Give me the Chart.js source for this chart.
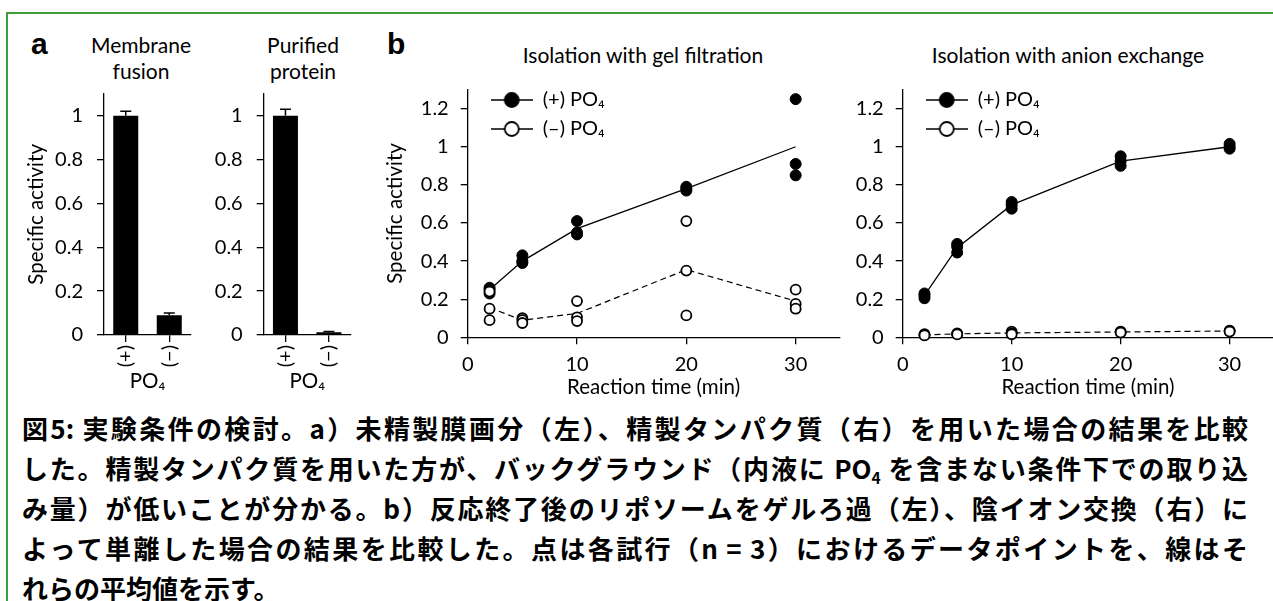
<!DOCTYPE html>
<html lang="ja">
<head>
<meta charset="utf-8">
<title>図5 実験条件の検討</title>
<script src="https://cdn.jsdelivr.net/npm/chart.js@4.4.1/dist/chart.umd.min.js"></script>
<style>
  html, body { margin: 0; padding: 0; background: #fff; overflow: hidden; }
  body { width: 1273px; height: 601px; position: relative; }
  .frame-top { position: absolute; left: 6px; top: 12px; width: 1267px; height: 2px; background: #3c9f3c; }
  .frame-left { position: absolute; left: 6px; top: 12px; width: 2px; height: 589px; background: #3c9f3c; }
  canvas { position: absolute; }
  .panel { position: absolute; font: bold 30px "Liberation Sans", Arial, sans-serif; line-height: 30px; color: #000; }
  .ttl { position: absolute; font: 21px Lato, sans-serif; line-height: 26px; text-align: center; color: #000; }
  #caption { position: absolute; left: 22px; top: 408px; width: 1226px; font: bold 26px "Noto Sans CJK JP", sans-serif; line-height: 40px; color: #000; }
  #caption div { text-align: justify; text-align-last: justify; }
  #caption div.last { text-align-last: left; }
  #caption sub { font-size: 60%; vertical-align: -0.3em; line-height: 0; }
</style>
</head>
<body>
<div class="frame-top"></div>
<div class="frame-left"></div>

<div class="panel" style="left:31px; top:29px;">a</div>
<div class="panel" style="left:387px; top:29px;">b</div>
<div class="ttl" style="left:61px; top:32px; width:160px;">Membrane<br>fusion</div>
<div class="ttl" style="left:223px; top:32px; width:160px;">Purified<br>protein</div>
<div class="ttl" style="left:493px; top:42px; width:300px;">Isolation with gel filtration</div>
<div class="ttl" style="left:918px; top:42px; width:300px;">Isolation with anion exchange</div>

<canvas id="membrane" width="190" height="380" style="left:10px; top:20px;"></canvas>
<canvas id="purified" width="160" height="380" style="left:200px; top:20px;"></canvas>
<canvas id="gel" width="480" height="380" style="left:380px; top:20px;"></canvas>
<canvas id="anion" width="460" height="380" style="left:820px; top:20px;"></canvas>

<div id="caption">
  <div>図5: 実験条件の検討。a）未精製膜画分（左）、精製タンパク質（右）を用いた場合の結果を比較</div>
  <div>した。精製タンパク質を用いた方が、バックグラウンド（内液に PO<sub>4</sub> を含まない条件下での取り込</div>
  <div>み量）が低いことが分かる。b）反応終了後のリポソームをゲルろ過（左）、陰イオン交換（右）に</div>
  <div>よって単離した場合の結果を比較した。点は各試行（n = 3）におけるデータポイントを、線はそ</div>
  <div class="last">れらの平均値を示す。</div>
</div>

<script>
'use strict';

// ---- data ----
const barCategories = ['(+)', '(−)'];
const membraneFusion = [1.0, 0.09];
const membraneFusionErr = [0.02, 0.01];
const purifiedProtein = [1.0, 0.013];
const purifiedProteinErr = [0.03, 0.003];

const timePoints = [2, 5, 10, 20, 30];
const xTicks = [0, 10, 20, 30];
const yTicksBar = [0, 0.2, 0.4, 0.6, 0.8, 1];
const yTicksTime = [0, 0.2, 0.4, 0.6, 0.8, 1, 1.2];

// gel filtration, three trials per time point
const gelPlusTrials = [[0.26, 0.25, 0.23], [0.43, 0.40, 0.39], [0.61, 0.55, 0.54], [0.79, 0.78, 0.77], [1.25, 0.91, 0.85]];
const gelPlusMean = [0.25, 0.40, 0.57, 0.78, 1.00];
const gelMinusTrials = [[0.24, 0.15, 0.09], [0.10, 0.09, 0.075], [0.19, 0.105, 0.085], [0.61, 0.35, 0.115], [0.25, 0.175, 0.15]];
const gelMinusMean = [0.155, 0.09, 0.125, 0.355, 0.19];

// anion exchange
const anionPlusTrials = [[0.23, 0.22, 0.205], [0.49, 0.475, 0.445], [0.71, 0.695, 0.675], [0.95, 0.925, 0.90], [1.015, 1.00, 0.99]];
const anionPlusMean = [0.22, 0.47, 0.695, 0.925, 1.0];
const anionMinusTrials = [[0.016, 0.012, 0.01], [0.021, 0.018, 0.015], [0.03, 0.022, 0.016], [0.03, 0.028, 0.025], [0.035, 0.033, 0.03]];
const anionMinusMean = [0.013, 0.018, 0.023, 0.028, 0.033];

// ---- helpers ----
const FONT = 'Lato, sans-serif';
const font = (size) => ({ family: FONT, size: size, lineHeight: 1.2 });
const fmt = (v) => String(Math.round(v * 10) / 10);

// use exactly the tick values listed above
function setTicks(list) {
    return (scale) => {
        scale.ticks = list.map(v => ({ value: v }));
    };
}

function tickGrid() {
    return { display: true, drawOnChartArea: false, drawTicks: true, tickLength: 7, color: '#000', lineWidth: 1.3 };
}

function trialPoints(trials) {
    const pts = [];
    trials.forEach((row, i) => row.forEach(v => pts.push({ x: timePoints[i], y: v })));
    return pts;
}

function meanPoints(means) {
    return means.map((v, i) => ({ x: timePoints[i], y: v }));
}

// line + circle marker for the legend
function legendMarker(filled) {
    const c = document.createElement('canvas');
    c.width = 42;
    c.height = 18;
    const g = c.getContext('2d');
    g.strokeStyle = '#000';
    g.lineWidth = 1.6;
    g.beginPath();
    g.moveTo(0, 9);
    g.lineTo(42, 9);
    g.stroke();
    g.beginPath();
    g.arc(21, 9, 7, 0, Math.PI * 2);
    g.fillStyle = filled ? '#000' : '#fff';
    g.fill();
    g.lineWidth = 1.8;
    g.stroke();
    return c;
}

// upward error bars with a cap
const errorBars = {
    id: 'errorBars',
    afterDatasetsDraw(chart) {
        const ds = chart.data.datasets[0];
        const meta = chart.getDatasetMeta(0);
        const ys = chart.scales.y;
        const ctx = chart.ctx;
        ctx.save();
        ctx.strokeStyle = '#000';
        ctx.lineWidth = 1.5;
        meta.data.forEach((bar, i) => {
            const top = ys.getPixelForValue(ds.data[i] + ds.errorPlus[i]);
            ctx.beginPath();
            ctx.moveTo(bar.x, bar.y);
            ctx.lineTo(bar.x, top);
            ctx.moveTo(bar.x - 5.5, top);
            ctx.lineTo(bar.x + 5.5, top);
            ctx.stroke();
        });
        ctx.restore();
    }
};

// put the legend inside the plot, near the top-left corner
const legendInside = {
    id: 'legendInside',
    afterLayout(chart, args, opts) {
        const lg = chart.legend;
        if (!lg) return;
        const w = lg.width, h = lg.height;
        lg.left = chart.chartArea.left + opts.dx;
        lg.top = chart.chartArea.top + opts.dy;
        lg.right = lg.left + w;
        lg.bottom = lg.top + h;
    }
};

function barChart(id, values, errors, yWidth, padRight, showTitle) {
    return new Chart(id, {
        type: 'bar',
        data: {
            labels: barCategories,
            datasets: [{
                data: values,
                errorPlus: errors,
                backgroundColor: '#000',
                borderWidth: 0,
                barPercentage: 0.575,
                categoryPercentage: 1
            }]
        },
        plugins: [errorBars],
        options: {
            responsive: false,
            animation: false,
            layout: { padding: { top: 73.8, right: padRight, left: 0, bottom: 0 } },
            plugins: { legend: { display: false }, tooltip: { enabled: false } },
            scales: {
                x: {
                    grid: Object.assign(tickGrid(), { offset: false }),
                    border: { display: true, color: '#000', width: 1.3 },
                    ticks: { color: '#000', font: font(20), minRotation: 90, maxRotation: 90, padding: 3, autoSkip: false },
                    title: { display: true, text: 'PO₄', color: '#000', font: font(20.5), padding: { top: 0, bottom: 6 } },
                    afterFit: (s) => { s.height = 65; }
                },
                y: {
                    min: 0,
                    max: 1.1,
                    grid: tickGrid(),
                    border: { display: true, color: '#000', width: 1.3 },
                    ticks: { color: '#000', font: font(20), padding: 14, callback: fmt },
                    afterBuildTicks: setTicks(yTicksBar),
                    title: { display: showTitle, text: 'Specific activity', color: '#000', font: font(20.5), padding: { top: 13.7, bottom: 0 } },
                    afterFit: (s) => { s.width = yWidth; }
                }
            }
        }
    });
}

function timeChart(id, plusTrials, plusMean, minusTrials, minusMean, yWidth, padRight, showTitle, titlePad) {
    const markers = [legendMarker(true), legendMarker(false)];
    return new Chart(id, {
        type: 'scatter',
        data: {
            datasets: [
                { label: '(+) PO₄', data: trialPoints(plusTrials), pointRadius: 5.5, backgroundColor: '#000', borderColor: '#000', borderWidth: 1, order: 1, clip: false },
                { label: '(–) PO₄', data: trialPoints(minusTrials), pointRadius: 5, backgroundColor: '#fff', borderColor: '#000', borderWidth: 1.8, order: 0, clip: false },
                { label: 'mean +', data: meanPoints(plusMean), showLine: true, pointRadius: 0, borderColor: '#000', borderWidth: 1.3, order: 3, clip: false },
                { label: 'mean -', data: meanPoints(minusMean), showLine: true, pointRadius: 0, borderColor: '#000', borderWidth: 1.2, borderDash: [6, 4], order: 2, clip: false }
            ]
        },
        plugins: [legendInside],
        options: {
            responsive: false,
            animation: false,
            layout: { padding: { top: 69.6, right: padRight, left: 0, bottom: 0 } },
            plugins: {
                tooltip: { enabled: false },
                legendInside: { dx: 14, dy: -8.6 },
                legend: {
                    position: 'chartArea',
                    align: 'start',
                    labels: {
                        usePointStyle: true,
                        pointStyleWidth: 42,
                        padding: 9,
                        color: '#000',
                        font: font(20),
                        generateLabels: () => [0, 1].map(i => ({
                            text: i === 0 ? '(+) PO₄' : '(–) PO₄',
                            pointStyle: markers[i],
                            datasetIndex: i,
                            fontColor: '#000',
                            lineWidth: 0,
                            hidden: false
                        }))
                    }
                }
            },
            scales: {
                x: {
                    type: 'linear',
                    min: 0,
                    max: 34,
                    grid: tickGrid(),
                    border: { display: true, color: '#000', width: 1.3 },
                    ticks: { color: '#000', font: font(20), padding: 8.7 },
                    afterBuildTicks: setTicks(xTicks),
                    title: { display: true, text: 'Reaction time (min)', color: '#000', font: font(20.5), padding: { top: 0, bottom: 0 } },
                    afterFit: (s) => { s.height = 62.7; }
                },
                y: {
                    min: 0,
                    max: 1.3,
                    grid: tickGrid(),
                    border: { display: true, color: '#000', width: 1.3 },
                    ticks: { color: '#000', font: font(20), padding: 12, callback: fmt },
                    afterBuildTicks: setTicks(yTicksTime),
                    title: { display: showTitle, text: 'Specific activity', color: '#000', font: font(20.5), padding: { top: titlePad, bottom: 0 } },
                    afterFit: (s) => { s.width = yWidth; }
                }
            }
        }
    });
}

barChart('membrane', membraneFusion, membraneFusionErr, 94, 9, true);
barChart('purified', purifiedProtein, purifiedProteinErr, 63.7, 9.3, false);
timeChart('gel', gelPlusTrials, gelPlusMean, gelMinusTrials, gelMinusMean, 87.7, 20.6, true, 3.5);
timeChart('anion', anionPlusTrials, anionPlusMean, anionMinusTrials, anionMinusMean, 82.7, 4.3, false, 0);
</script>
</body>
</html>
